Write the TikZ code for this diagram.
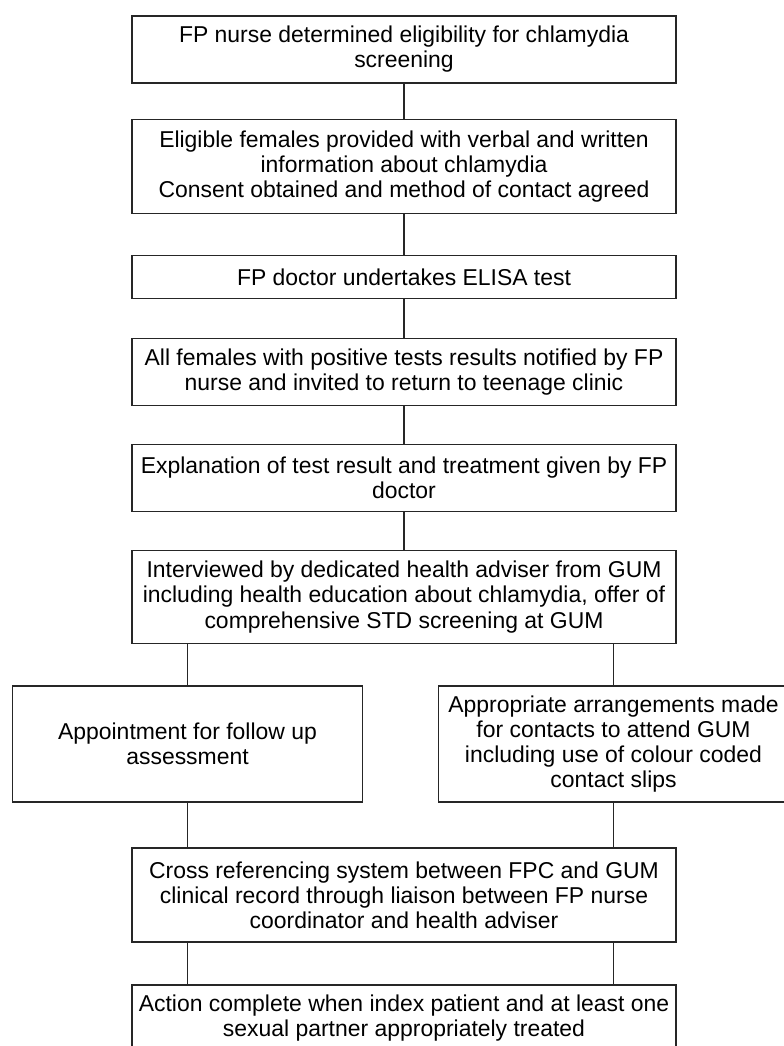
\documentclass[tikz,border=0pt]{standalone}
\usepackage{fontspec}
\setmainfont{Liberation Sans}
\begin{document}
\begin{tikzpicture}[x=0.75pt,y=-0.75pt,
  box/.style={draw=black!85,line width=0.9pt,align=center,inner sep=0pt,
    font=\fontsize{17.2}{18.8}\selectfont},
  wide/.style={box,minimum width=544*0.75pt},
  side/.style={box,minimum width=350*0.75pt,minimum height=116*0.75pt},
  link/.style={draw=black!85,line width=0.8pt}]
\clip (0,0) rectangle (784,1046);
\fill[white] (0,0) rectangle (784,1046);
\node[wide,minimum height=67*0.75pt] (b1) at (404,49.5) {FP nurse determined eligibility for chlamydia\\screening};
\node[wide,minimum height=94*0.75pt] (b2) at (404,166.5) {Eligible females provided with verbal and written\\information about chlamydia\\Consent obtained and method of contact agreed};
\node[wide,minimum height=43*0.75pt] (b3) at (404,277) {FP doctor undertakes ELISA test};
\node[wide,minimum height=67*0.75pt] (b4) at (404,372) {All females with positive tests results notified by FP\\nurse and invited to return to teenage clinic};
\node[wide,minimum height=67*0.75pt] (b5) at (404,478) {Explanation of test result and treatment given by FP\\doctor};
\node[wide,minimum height=93*0.75pt] (b6) at (404,597) {Interviewed by dedicated health adviser from GUM\\including health education about chlamydia, offer of\\comprehensive STD screening at GUM};
\node[side] (l) at (187.5,744) {Appointment for follow up\\assessment};
\node[side] (r) at (613.5,744) {Appropriate arrangements made\\for contacts to attend GUM\\including use of colour coded\\contact slips};
\node[wide,minimum height=94*0.75pt] (b8) at (404,895) {Cross referencing system between FPC and GUM\\clinical record through liaison between FP nurse\\coordinator and health adviser};
\node[wide,minimum height=67*0.75pt] (b9) at (404,1018.5) {Action complete when index patient and at least one\\sexual partner appropriately treated};
\draw[link] (b1) -- (b2);
\draw[link] (b2) -- (b3);
\draw[link] (b3) -- (b4);
\draw[link] (b4) -- (b5);
\draw[link] (b5) -- (b6);
\draw[link] (b6.south -| l.north) -- (l.north);
\draw[link] (b6.south -| r.north) -- (r.north);
\draw[link] (l.south) -- (l.south |- b8.north);
\draw[link] (r.south) -- (r.south |- b8.north);
\draw[link] (b8.south -| l.south) -- (b9.north -| l.south);
\draw[link] (b8.south -| r.south) -- (b9.north -| r.south);
\end{tikzpicture}
\end{document}
